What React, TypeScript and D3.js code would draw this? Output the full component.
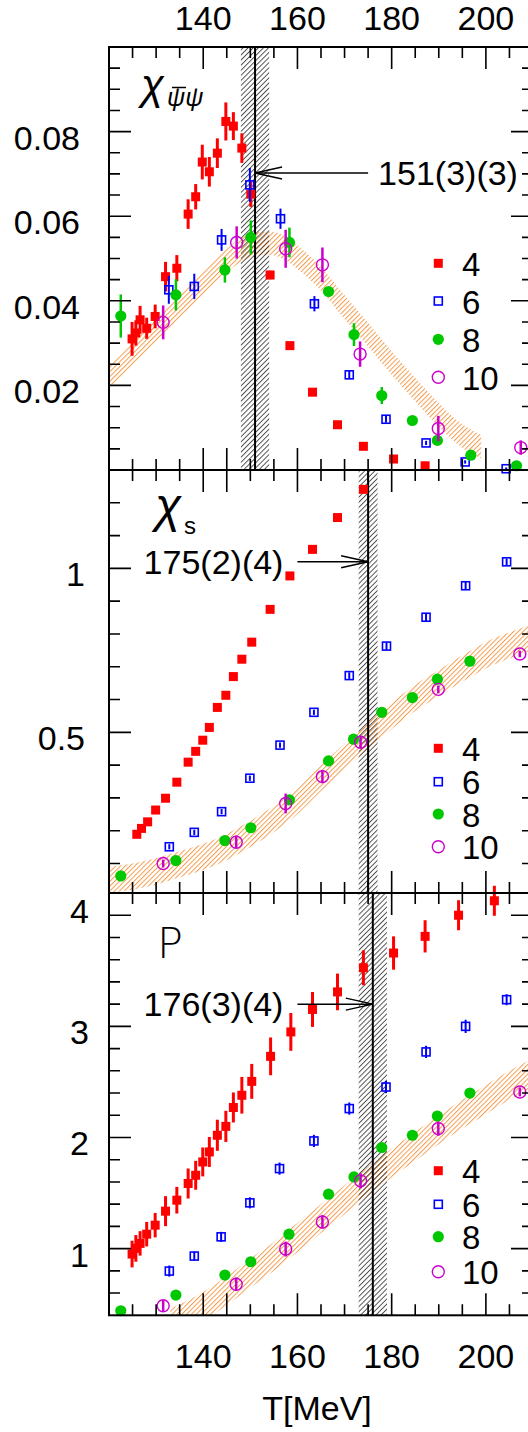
import React from "react";
import * as d3 from "d3";

// ---------------- data ----------------
// Panel 1: chiral susceptibility chi_{psibar psi}
const pbpT4 = [124.9, 125.7, 126.6, 128.0, 129.8, 132.0, 134.4, 136.8, 138.4, 139.8, 141.3, 143.0, 144.8, 146.4, 148.2, 150.1, 154.2, 158.4, 163.2, 168.5, 174.0, 180.4, 187.1];
const pbpV4 = [0.0310, 0.0324, 0.0355, 0.0335, 0.0363, 0.0457, 0.0477, 0.0605, 0.0646, 0.0728, 0.0705, 0.0749, 0.0824, 0.0813, 0.0761, 0.0652, 0.0461, 0.0294, 0.0184, 0.0107, 0.0056, 0.0026, 0.0010];
const pbpE4 = [0.004, 0.003, 0.0033, 0.0025, 0.0028, 0.0035, 0.0031, 0.0035, 0.003, 0.0041, 0.0035, 0.0035, 0.0045, 0.0033, 0.0035, 0.003, 0.001, 0.0008, 0.0005, 0.0004, 0.0003, 0.0002, 0.0002];
const pbpT6 = [132.7, 138.1, 143.9, 149.9, 156.4, 163.6, 171.0, 178.8, 187.3, 195.6, 204.3];
const pbpV6 = [0.0426, 0.0434, 0.0544, 0.0674, 0.0594, 0.0393, 0.0225, 0.0120, 0.0064, 0.0019, 0.0003];
const pbpE6 = [0.0033, 0.003, 0.0026, 0.004, 0.0024, 0.0018, 0.001, 0.0008, 0.0005, 0.0004, 0.0003];
const pbpT8 = [122.5, 134.2, 144.6, 150.1, 158.3, 166.6, 172.0, 177.9, 184.4, 189.7, 196.8, 206.5];
const pbpV8 = [0.0364, 0.0414, 0.0473, 0.0550, 0.0538, 0.0422, 0.0320, 0.0176, 0.0117, 0.0070, 0.0035, 0.0010];
const pbpE8 = [0.0051, 0.0037, 0.003, 0.004, 0.0035, 0.001, 0.0027, 0.002, 0.0008, 0.0008, 0.0005, 0.0005];
const pbpT10 = [131.5, 147.1, 157.5, 165.3, 173.3, 189.9, 207.4];
const pbpV10 = [0.0349, 0.0538, 0.0523, 0.0485, 0.0274, 0.0098, 0.0053];
const pbpE10 = [0.004, 0.0038, 0.0045, 0.0041, 0.003, 0.003, 0.0017];
const pbpBandT = [120, 125, 130, 135, 140, 145, 148, 151, 154, 157, 160, 165, 170, 175, 180, 185, 190, 195, 199];
const pbpBandLo = [0.0189, 0.0245, 0.0302, 0.0358, 0.0415, 0.0467, 0.0492, 0.0505, 0.0508, 0.0499, 0.0475, 0.0424, 0.0357, 0.0292, 0.0225, 0.0162, 0.0102, 0.0052, 0.0027];
const pbpBandHi = [0.0245, 0.0301, 0.0358, 0.0414, 0.0471, 0.0523, 0.0548, 0.0561, 0.0564, 0.0555, 0.0531, 0.0480, 0.0413, 0.0348, 0.0281, 0.0218, 0.0158, 0.0108, 0.0083];

// Panel 2: strange quark number susceptibility chi_s
const chsT4 = [125.9, 126.9, 128.2, 129.9, 132.0, 134.4, 136.8, 138.4, 139.9, 141.3, 143.0, 144.8, 146.4, 148.2, 150.3, 154.2, 158.4, 163.2, 168.5, 174.0];
const chsV4 = [0.189, 0.207, 0.227, 0.263, 0.299, 0.348, 0.409, 0.442, 0.476, 0.515, 0.576, 0.613, 0.670, 0.723, 0.775, 0.875, 0.977, 1.058, 1.155, 1.241];
const chsE4 = [0.003, 0.003, 0.003, 0.003, 0.003, 0.003, 0.003, 0.003, 0.003, 0.003, 0.003, 0.003, 0.003, 0.003, 0.003, 0.003, 0.003, 0.003, 0.003, 0.003];
const chsT6 = [132.8, 138.1, 143.9, 149.9, 156.3, 163.5, 171.0, 178.9, 187.3, 195.7, 204.4];
const chsV6 = [0.151, 0.195, 0.258, 0.360, 0.461, 0.561, 0.673, 0.763, 0.851, 0.947, 1.020];
const chsE6 = [0.008, 0.008, 0.008, 0.008, 0.008, 0.008, 0.01, 0.012, 0.012, 0.012, 0.01];
const chsT8 = [122.5, 134.2, 144.6, 150.1, 158.3, 166.6, 171.9, 177.9, 184.4, 189.7, 196.6];
const chsV8 = [0.062, 0.109, 0.170, 0.209, 0.294, 0.413, 0.479, 0.561, 0.606, 0.662, 0.717];
const chsE8 = [0.003, 0.003, 0.003, 0.003, 0.003, 0.003, 0.003, 0.003, 0.003, 0.003, 0.003];
const chsT10 = [131.5, 147.0, 157.5, 165.3, 173.4, 189.9, 207.2];
const chsV10 = [0.100, 0.165, 0.283, 0.365, 0.470, 0.631, 0.739];
const chsE10 = [0.012, 0.02, 0.03, 0.02, 0.02, 0.012, 0.01];
const chsBandT = [120, 125, 130, 135, 140, 145, 150, 155, 160, 165, 170, 175, 180, 185, 190, 195, 200, 205, 210];
const chsBandLo = [0.010, 0.020, 0.036, 0.057, 0.080, 0.110, 0.150, 0.195, 0.250, 0.320, 0.385, 0.450, 0.510, 0.565, 0.610, 0.655, 0.695, 0.725, 0.750];
const chsBandHi = [0.090, 0.100, 0.116, 0.137, 0.160, 0.190, 0.230, 0.275, 0.330, 0.400, 0.465, 0.530, 0.590, 0.645, 0.690, 0.735, 0.775, 0.805, 0.830];

// Panel 3: Polyakov loop P
const polT4 = [124.9, 125.7, 126.6, 128.0, 129.8, 132.0, 134.4, 136.8, 138.4, 139.9, 141.3, 143.0, 144.8, 146.4, 148.2, 150.3, 154.3, 158.6, 163.2, 168.5, 174.0, 180.4, 187.1, 194.2, 201.8];
const polV4 = [0.951, 1.002, 1.047, 1.130, 1.211, 1.337, 1.436, 1.586, 1.660, 1.780, 1.870, 2.020, 2.100, 2.270, 2.380, 2.505, 2.730, 2.950, 3.152, 3.310, 3.527, 3.660, 3.810, 4.000, 4.130];
const polE4 = [0.12, 0.12, 0.11, 0.11, 0.11, 0.135, 0.12, 0.135, 0.13, 0.13, 0.135, 0.14, 0.14, 0.135, 0.165, 0.157, 0.17, 0.17, 0.157, 0.165, 0.157, 0.15, 0.145, 0.135, 0.135];
const polT6 = [132.8, 138.1, 143.8, 149.9, 156.2, 163.5, 171.0, 178.8, 187.3, 195.7, 204.4];
const polV6 = [0.798, 0.933, 1.106, 1.412, 1.720, 1.969, 2.260, 2.454, 2.770, 3.000, 3.240];
const polE6 = [0.05, 0.04, 0.045, 0.05, 0.055, 0.055, 0.055, 0.055, 0.055, 0.06, 0.05];
const polT8 = [122.5, 134.2, 144.6, 150.1, 158.2, 166.6, 172.0, 177.9, 184.4, 189.7, 196.6];
const polV8 = [0.441, 0.582, 0.762, 0.882, 1.130, 1.490, 1.645, 1.910, 2.020, 2.193, 2.400];
const polE8 = [0.01, 0.01, 0.01, 0.01, 0.01, 0.01, 0.01, 0.01, 0.01, 0.01, 0.01];
const polT10 = [131.5, 147.0, 157.5, 165.3, 173.4, 189.9, 207.2];
const polV10 = [0.486, 0.680, 0.996, 1.240, 1.610, 2.080, 2.410];
const polE10 = [0.05, 0.06, 0.067, 0.06, 0.067, 0.065, 0.04];
const polBandT = [133, 140, 145, 150, 155, 160, 165, 170, 175, 180, 185, 190, 195, 200, 205, 210];
const polBandLo = [0.20, 0.35, 0.49, 0.65, 0.80, 0.97, 1.14, 1.31, 1.48, 1.64, 1.79, 1.94, 2.08, 2.21, 2.34, 2.45];
const polBandHi = [0.46, 0.61, 0.75, 0.91, 1.06, 1.23, 1.40, 1.57, 1.74, 1.90, 2.05, 2.20, 2.34, 2.47, 2.60, 2.71];

// transition temperatures
const tcCenter = [151, 175, 176];
const tcErr = [3, 2, 3];
const tcLabels = ["151(3)(3)", "175(2)(4)", "176(3)(4)"];
const tcArrowValue = [0.0702, 1.02, 3.2];
const tcArrowTail = [175, 160, 160];

// legend / ticks
const legendLabels = ["4", "6", "8", "10"];
const xTickLabels = [140, 160, 180, 200];
const pbpYTicks = [0.02, 0.04, 0.06, 0.08];
const pbpYLabels = ["0.02", "0.04", "0.06", "0.08"];
const chsYTicks = [0.5, 1];
const chsYLabels = ["0.5", "1"];
const polYTicks = [1, 2, 3, 4];
const polYLabels = ["1", "2", "3", "4"];

// ---------------- layout ----------------
const X0 = 109;
const X1 = 533;
const FONT = "'Liberation Sans', Arial, Helvetica, sans-serif";
const C4 = "#ff0000";
const C6 = "#0000ff";
const C8 = "#00c800";
const C10 = "#cc00cc";
const CBAND = "#f39c4e";

const zip = (T: number[], V: number[], E: number[]) => T.map((t, i) => ({ t, v: V[i], e: E[i] }));
const zipBand = (T: number[], L: number[], H: number[]) => T.map((t, i) => ({ t, lo: L[i], hi: H[i] }));

const panels = [
  {
    id: "pbp", top: 47, bottom: 470, domain: [0, 0.1],
    yTicks: pbpYTicks, yLabels: pbpYLabels, labelRight: 80,
    series: [zip(pbpT4, pbpV4, pbpE4), zip(pbpT6, pbpV6, pbpE6), zip(pbpT8, pbpV8, pbpE8), zip(pbpT10, pbpV10, pbpE10)],
    band: zipBand(pbpBandT, pbpBandLo, pbpBandHi),
    legendY: [263.3, 301, 339.3, 377.3],
    topMajor145: false,
  },
  {
    id: "chs", top: 470, bottom: 893, domain: [0.01, 1.3],
    yTicks: chsYTicks, yLabels: chsYLabels, labelRight: 85,
    series: [zip(chsT4, chsV4, chsE4), zip(chsT6, chsV6, chsE6), zip(chsT8, chsV8, chsE8), zip(chsT10, chsV10, chsE10)],
    band: zipBand(chsBandT, chsBandLo, chsBandHi),
    legendY: [748.3, 781.7, 814, 846.7],
    topMajor145: true,
  },
  {
    id: "pol", top: 893, bottom: 1315.3, domain: [0.4, 4.2],
    yTicks: polYTicks, yLabels: polYLabels, labelRight: 89,
    series: [zip(polT4, polV4, polE4), zip(polT6, polV6, polE6), zip(polT8, polV8, polE8), zip(polT10, polV10, polE10)],
    band: zipBand(polBandT, polBandLo, polBandHi),
    legendY: [1170.7, 1204.3, 1236.7, 1271.7],
    topMajor145: false,
  },
];

const kinds = ["sq", "osq", "dot", "ocirc"];
const colors = [C4, C6, C8, C10];
const errWidth = [3, 2, 2.5, 2.5];

function Marker({ kind, cx, cy }: { kind: string; cx: number; cy: number }) {
  if (kind === "sq") return <rect x={cx - 4.5} y={cy - 4.5} width={9} height={9} fill={C4} />;
  if (kind === "osq") return <rect x={cx - 4} y={cy - 4} width={8} height={8} fill="none" stroke={C6} strokeWidth={1.6} />;
  if (kind === "dot") return <circle cx={cx} cy={cy} r={5.6} fill={C8} />;
  return <circle cx={cx} cy={cy} r={6} fill="none" stroke={C10} strokeWidth={1.4} />;
}

const x = d3.scaleLinear().domain([120, 210]).range([X0, X1]);

function Panel({ p, idx }: { p: any; idx: number }) {
  const y = d3.scaleLinear().domain(p.domain).range([p.bottom, p.top]);
  const area = d3
    .area<any>()
    .x((d) => x(d.t))
    .y0((d) => y(d.lo))
    .y1((d) => y(d.hi))
    .curve(d3.curveMonotoneX);
  const clipId = `clip-${p.id}`;

  const xMinor = d3.range(125, 210, 5);
  const majorTop = (t: number) => [140, 160, 180, 200].includes(t) || (p.topMajor145 && t === 145);
  const majorBottom = (t: number) => [140, 145, 160, 180, 200].includes(t);

  let yTickVals: { v: number; major: boolean }[] = [];
  if (p.id === "pbp") yTickVals = d3.range(1, 20).map((i) => ({ v: i * 0.005, major: i % 4 === 0 }));
  if (p.id === "chs") yTickVals = d3.range(1, 13).map((i) => ({ v: i * 0.1, major: i % 5 === 0 }));
  if (p.id === "pol")
    yTickVals = d3.range(1, 19).map((i) => {
      const v = 0.4 + i * 0.2;
      return { v, major: Math.abs(v - Math.round(v)) < 1e-6 };
    });

  const lo = tcCenter[idx] - tcErr[idx];
  const hi = tcCenter[idx] + tcErr[idx];
  const ay = y(tcArrowValue[idx]);
  const tipX = x(tcCenter[idx]);
  const tailX = x(tcArrowTail[idx]);
  const dir = tailX > tipX ? 1 : -1;

  const ticks: string[] = [];
  xMinor.forEach((t) => {
    const xx = x(t);
    const lt = majorTop(t) ? 22 : 11;
    const lb = majorBottom(t) ? 22 : 11;
    ticks.push(`M${xx},${p.top}V${p.top + lt}`);
    ticks.push(`M${xx},${p.bottom}V${p.bottom - lb}`);
  });
  yTickVals.forEach(({ v, major }) => {
    const yy = y(v);
    const l = major ? 22 : 11;
    ticks.push(`M${X0},${yy}H${X0 + l}`);
    ticks.push(`M${X1},${yy}H${X1 - l}`);
  });

  return (
    <g>
      <defs>
        <clipPath id={clipId}>
          <rect x={X0} y={p.top} width={X1 - X0} height={p.bottom - p.top} />
        </clipPath>
      </defs>
      <g clipPath={`url(#${clipId})`}>
        <path d={area(p.band) || ""} fill="url(#hatchO)" />
        <rect x={x(lo)} y={p.top} width={x(hi) - x(lo)} height={p.bottom - p.top} fill="url(#hatchK)" />
        <line x1={tipX} x2={tipX} y1={p.top} y2={p.bottom} stroke="#000" strokeWidth={2} />
      </g>
      {p.series.map((s: any[], si: number) => (
        <g key={si}>
          {s.map((d, i) => (
            <line key={"e" + i} x1={x(d.t)} x2={x(d.t)} y1={y(d.v - d.e)} y2={y(d.v + d.e)} stroke={colors[si]} strokeWidth={errWidth[si]} />
          ))}
          {s.map((d, i) => (
            <Marker key={"m" + i} kind={kinds[si]} cx={x(d.t)} cy={y(d.v)} />
          ))}
        </g>
      ))}
      {/* arrow */}
      <g stroke="#000" strokeWidth={1.5} fill="none">
        <line x1={tailX} x2={tipX} y1={ay} y2={ay} />
        <polyline points={`${tipX + dir * 27},${ay - 6} ${tipX},${ay} ${tipX + dir * 27},${ay + 6}`} />
      </g>
      <text
        x={dir > 0 ? tailX + 10 : tailX - 14}
        y={ay + 12}
        fontSize={34}
        textAnchor={dir > 0 ? "start" : "end"}
        fontFamily={FONT}
      >
        {tcLabels[idx]}
      </text>
      {/* legend */}
      {legendLabels.map((lab, i) => (
        <g key={lab}>
          <Marker kind={kinds[i]} cx={438.3} cy={p.legendY[i]} />
          <text x={462} y={p.legendY[i] + 12.5} fontSize={33} fontFamily={FONT}>
            {lab}
          </text>
        </g>
      ))}
      {/* frame + ticks */}
      <path d={ticks.join("")} stroke="#000" strokeWidth={1.6} fill="none" />
      <rect x={X0} y={p.top} width={X1 - X0} height={p.bottom - p.top} fill="none" stroke="#000" strokeWidth={2} />
      {/* y labels */}
      {p.yTicks.map((v: number, i: number) => (
        <text
          key={v}
          x={p.labelRight}
          y={y(v) + (p.id === "pol" && v === 4 ? 8 : 18)}
          fontSize={34}
          textAnchor="end"
          fontFamily={FONT}
        >
          {p.yLabels[i]}
        </text>
      ))}
    </g>
  );
}

export default function App() {
  return (
    <svg
      width={528}
      height={1432}
      viewBox="0 0 528 1432"
      style={{ position: "absolute", left: 0, top: 0, background: "#fff", display: "block" }}
    >
      <defs>
        <pattern id="hatchK" patternUnits="userSpaceOnUse" width={3.6} height={10} patternTransform="rotate(45)">
          <line x1={0.5} y1={0} x2={0.5} y2={10} stroke="#000" strokeWidth={0.7} />
        </pattern>
        <pattern id="hatchO" patternUnits="userSpaceOnUse" width={3.4} height={10} patternTransform="rotate(45)">
          <line x1={0.5} y1={0} x2={0.5} y2={10} stroke={CBAND} strokeWidth={1.0} />
        </pattern>
      </defs>
      <rect x={0} y={0} width={528} height={1432} fill="#fff" />
      {panels.map((p, i) => (
        <Panel key={p.id} p={p} idx={i} />
      ))}
      {/* panel symbols */}
      <text x={141} y={99} fontSize={42} fontStyle="italic" fontFamily={FONT}>χ</text>
      <text x={167} y={106} fontSize={25} fontStyle="italic" fontFamily={FONT}>ψψ</text>
      <line x1={172} x2={186} y1={87.5} y2={87.5} stroke="#000" strokeWidth={1.5} />
      <text x={155} y={522} fontSize={48} fontStyle="italic" fontFamily={FONT}>χ</text>
      <text x={184} y={534} fontSize={24} fontFamily={FONT}>s</text>
      <text x={157} y={958} fontSize={43} fontFamily="'DejaVu Sans', sans-serif" fontWeight={200}>P</text>
      {/* x tick labels */}
      {xTickLabels.map((t) => (
        <text key={"t" + t} x={x(t)} y={30} fontSize={34} textAnchor="middle" fontFamily={FONT}>
          {t}
        </text>
      ))}
      {xTickLabels.map((t) => (
        <text key={"b" + t} x={x(t)} y={1368} fontSize={34} textAnchor="middle" fontFamily={FONT}>
          {t}
        </text>
      ))}
      <text x={317} y={1420} fontSize={34} textAnchor="middle" fontFamily={FONT}>
        T[MeV]
      </text>
    </svg>
  );
}
